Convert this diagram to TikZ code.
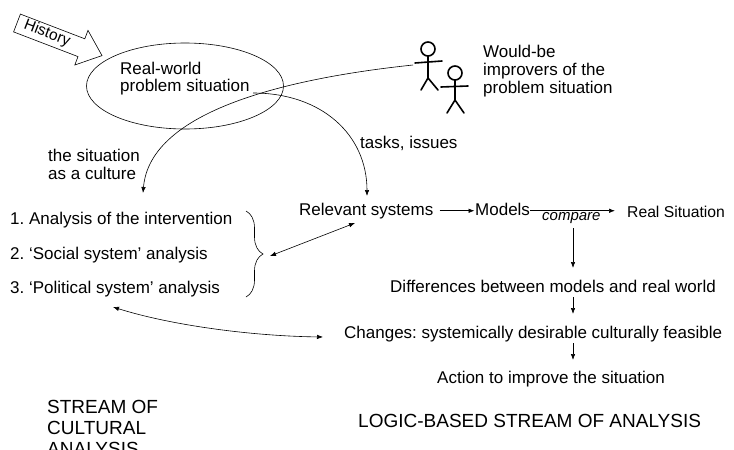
\documentclass[tikz,border=0pt]{standalone}
\usepackage{fontspec}
\setmainfont{Liberation Sans}
\usetikzlibrary{arrows.meta,shapes.geometric,decorations.pathreplacing}
\frenchspacing
\begin{document}
\begin{tikzpicture}[x=1pt,y=-1pt,
  txt/.style={inner sep=0pt, anchor=base west, text height=12pt, text depth=3.5pt, font=\fontsize{17}{18}\selectfont},
  bigtxt/.style={inner sep=0pt, anchor=base west, font=\fontsize{19}{21}\selectfont},
  conn/.style={line width=0.6pt, -{Latex[length=6pt,width=4.5pt]}},
  dconn/.style={line width=0.6pt, {Latex[length=6pt,width=4.5pt]}-{Latex[length=6pt,width=4.5pt]}},
  person/.style={line width=1.6pt, line cap=round}]
\useasboundingbox (0,0) rectangle (734,450);
\clip (0,0) rectangle (734,450);
\fill[white] (0,0) rectangle (734,450);

% History block arrow
\draw[line width=0.6pt, line join=miter] (20.4,14.1) -- (84.8,38.8) -- (88.0,30.4) -- (102,55.6) -- (74.8,65) -- (78,56.6) -- (13.6,31.9) -- cycle;
\node[inner sep=0pt, rotate=-21, font=\fontsize{15.5}{17}\selectfont] (hist) at (47,33.5) {History};

% problem situation
\node[draw, ellipse, line width=0.6pt, minimum width=197pt, minimum height=86pt, inner sep=0pt] (ell) at (185,86) {};
\node[txt] (rw1) at (120,74) {Real-world};
\node[txt] (rw2) at (120,91) {problem situation};

% people
\draw[person] (428,49) circle[radius=7];
\draw[person] (428,56) -- (428,78);
\draw[person] (415,63) -- (442,61);
\draw[person] (421,90) -- (428,78) -- (438,90);
\draw[person] (455,73) circle[radius=7];
\draw[person] (455,80) -- (455,100);
\draw[person] (441,87) -- (468,86);
\draw[person] (447,113) -- (455,100) -- (464,113);
\node[txt] (wb1) at (483,57) {Would-be};
\node[txt] (wb2) at (483,75) {improvers of the};
\node[txt] (wb3) at (483,93) {problem situation};

% labels of the two curves
\node[txt] (sc1) at (48,161) {the situation};
\node[txt] (sc2) at (48,179) {as a culture};
\node[txt] (ti) at (360,148) {tasks, issues};

\coordinate (pp) at (413,65);
\coordinate (cu) at (143,193);
\coordinate (ts) at (253,93);
\coordinate (ri) at (367,196);
\draw[conn] (pp) .. controls (290,78) and (150,110) .. (cu);
\draw[conn] (ts) .. controls (322,93) and (367,135) .. (ri);

% cultural analysis list
\node[txt] (c1) at (10,224) {1. Analysis of the intervention};
\node[txt] (c2) at (10,259) {2. ‘Social system’ analysis};
\node[txt] (c3) at (10,293) {3. ‘Political system’ analysis};
\draw[line width=0.6pt, decorate, decoration={brace, amplitude=17pt}] (246,211) -- (246,297);

% logic-based stream
\node[txt] (rel) at (299,215) {Relevant systems};
\node[txt] (mod) at (475,215) {Models};
\node[txt, font=\fontsize{15.7}{18}\selectfont] (real) at (627,217) {Real Situation};
\node[txt, text height=10pt, text depth=3pt, font=\fontsize{15}{17}\itshape] (cmp) at (542,220) {compare};
\node[txt] (diff) at (390,292) {Differences between models and real world};
\node[txt] (chg) at (344,338) {Changes: systemically desirable culturally feasible};
\node[txt] (act) at (437,383) {Action to improve the situation};

\coordinate (bt) at (270,256);
\coordinate (rs) at (355,223);
\draw[dconn] (bt) -- (rs);
\draw[conn] ([xshift=6pt]rel.east) -- ([xshift=-0.5pt]mod.west);
\draw[conn] (mod.east) -- ([xshift=-12pt]mod.east -| real.west);

\coordinate (d1) at (573,228);
\coordinate (d2) at (573,268);
\coordinate (d3) at (573,297);
\coordinate (d4) at (573,314);
\coordinate (d5) at (573,343);
\coordinate (d6) at (573,360);
\draw[conn] (d1) -- (d2);
\draw[conn] (d3) -- (d4);
\draw[conn] (d5) -- (d6);

\coordinate (pl) at (113,307);
\coordinate (cw) at (323,337);
\draw[dconn] (pl) .. controls (170,325) and (250,336) .. (cw);

% stream titles
\node[bigtxt] (s1) at (47,413) {STREAM OF};
\node[bigtxt] (s2) at (47,434) {CULTURAL};
\node[bigtxt] (s3) at (47,455) {ANALYSIS};
\node[bigtxt] (lg) at (358,427) {LOGIC-BASED STREAM OF ANALYSIS};
\end{tikzpicture}
\end{document}
